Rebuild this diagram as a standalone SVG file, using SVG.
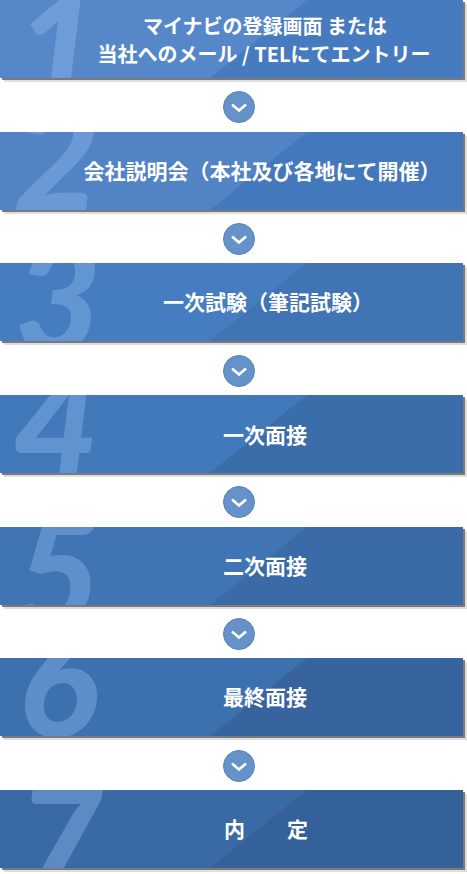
<svg xmlns="http://www.w3.org/2000/svg" width="467" height="874" viewBox="0 0 467 874">
<defs>
<style>
.sh1{fill:#dedede}
.sh2{fill:#7a7a7a}
.lbl{font-family:"Noto Sans CJK JP","Noto Sans",sans-serif;font-weight:700;fill:#ffffff;text-anchor:middle}
.num{font-family:Lato,"Liberation Sans",sans-serif;font-weight:900;font-style:italic;font-size:150px;fill:#8cb8ee;fill-opacity:0.42;text-anchor:middle}
.dot{fill:#6592c9;stroke:#5583c0;stroke-width:1}
.chev{fill:none;stroke:#ffffff;stroke-width:2.6;stroke-linejoin:miter}
</style>
<clipPath id="bx"><rect x="0" y="0" width="463" height="78"/></clipPath>
</defs>
<rect width="467" height="874" fill="#ffffff"/>

<g id="step1" transform="translate(0,0)">
<rect class="sh1" x="4" y="4" width="463" height="78"/>
<rect class="sh2" x="2" y="2" width="463" height="78"/>
<rect x="0" y="0" width="463" height="78" fill="#477bc0"/>
<polygon points="0,0 307,0 210,78 0,78" fill="#5688c9"/>
<g clip-path="url(#bx)"><text class="num" x="58" y="105">1</text></g>
<text class="lbl" x="265" y="34" font-size="20">マイナビの登録画面 または</text>
<text class="lbl" x="264" y="62" font-size="20">当社へのメール / TELにてエントリー</text>
</g>

<g id="step2" transform="translate(0,132)">
<rect class="sh1" x="4" y="4" width="463" height="78"/>
<rect class="sh2" x="2" y="2" width="463" height="78"/>
<rect x="0" y="0" width="463" height="78" fill="#4478bc"/>
<polygon points="0,0 307,0 210,78 0,78" fill="#5283c4"/>
<g clip-path="url(#bx)"><text class="num" x="57" y="79">2</text></g>
<text class="lbl" x="262" y="47" font-size="21">会社説明会（本社及び各地にて開催）</text>
</g>

<g id="step3" transform="translate(0,263)">
<rect class="sh1" x="4" y="4" width="463" height="78"/>
<rect class="sh2" x="2" y="2" width="463" height="78"/>
<rect x="0" y="0" width="463" height="78" fill="#4074b5"/>
<polygon points="0,0 307,0 210,78 0,78" fill="#467dc0"/>
<g clip-path="url(#bx)"><text class="num" x="58" y="90">3</text></g>
<text class="lbl" x="268" y="47" font-size="21">一次試験（筆記試験）</text>
</g>

<g id="step4" transform="translate(0,395)">
<rect class="sh1" x="4" y="4" width="463" height="78"/>
<rect class="sh2" x="2" y="2" width="463" height="78"/>
<rect x="0" y="0" width="463" height="78" fill="#3b6dab"/>
<polygon points="0,0 307,0 210,78 0,78" fill="#4279bb"/>
<g clip-path="url(#bx)"><text class="num" x="56" y="84">4</text></g>
<text class="lbl" x="265" y="48" font-size="21">一次面接</text>
</g>

<g id="step5" transform="translate(0,527)">
<rect class="sh1" x="4" y="4" width="463" height="78"/>
<rect class="sh2" x="2" y="2" width="463" height="78"/>
<rect x="0" y="0" width="463" height="78" fill="#3a6ba7"/>
<polygon points="0,0 307,0 210,78 0,78" fill="#4074b4"/>
<g clip-path="url(#bx)"><text class="num" x="58" y="100">5</text></g>
<text class="lbl" x="265" y="47" font-size="21">二次面接</text>
</g>

<g id="step6" transform="translate(0,658)">
<rect class="sh1" x="4" y="4" width="463" height="78"/>
<rect class="sh2" x="2" y="2" width="463" height="78"/>
<rect x="0" y="0" width="463" height="78" fill="#37649f"/>
<polygon points="0,0 307,0 210,78 0,78" fill="#3d70ae"/>
<g clip-path="url(#bx)"><text class="num" x="58" y="79">6</text></g>
<text class="lbl" x="265" y="47" font-size="21">最終面接</text>
</g>

<g id="step7" transform="translate(0,790)">
<rect class="sh1" x="4" y="4" width="463" height="78"/>
<rect class="sh2" x="2" y="2" width="463" height="78"/>
<rect x="0" y="0" width="463" height="78" fill="#34619a"/>
<polygon points="0,0 307,0 210,78 0,78" fill="#3a6aa6"/>
<g clip-path="url(#bx)"><text class="num" x="60" y="106">7</text></g>
<text class="lbl" x="266" y="47" font-size="21">内　　定</text>
</g>

<g id="connectors">
<g transform="translate(239,107)"><circle class="dot" r="15.5"/><polyline class="chev" points="-7,-2.5 0,3.5 7,-2.5"/></g>
<g transform="translate(239,239)"><circle class="dot" r="15.5"/><polyline class="chev" points="-7,-2.5 0,3.5 7,-2.5"/></g>
<g transform="translate(239,371)"><circle class="dot" r="15.5"/><polyline class="chev" points="-7,-2.5 0,3.5 7,-2.5"/></g>
<g transform="translate(239,502)"><circle class="dot" r="15.5"/><polyline class="chev" points="-7,-2.5 0,3.5 7,-2.5"/></g>
<g transform="translate(239,634)"><circle class="dot" r="15.5"/><polyline class="chev" points="-7,-2.5 0,3.5 7,-2.5"/></g>
<g transform="translate(239,766)"><circle class="dot" r="15.5"/><polyline class="chev" points="-7,-2.5 0,3.5 7,-2.5"/></g>
</g>
</svg>
